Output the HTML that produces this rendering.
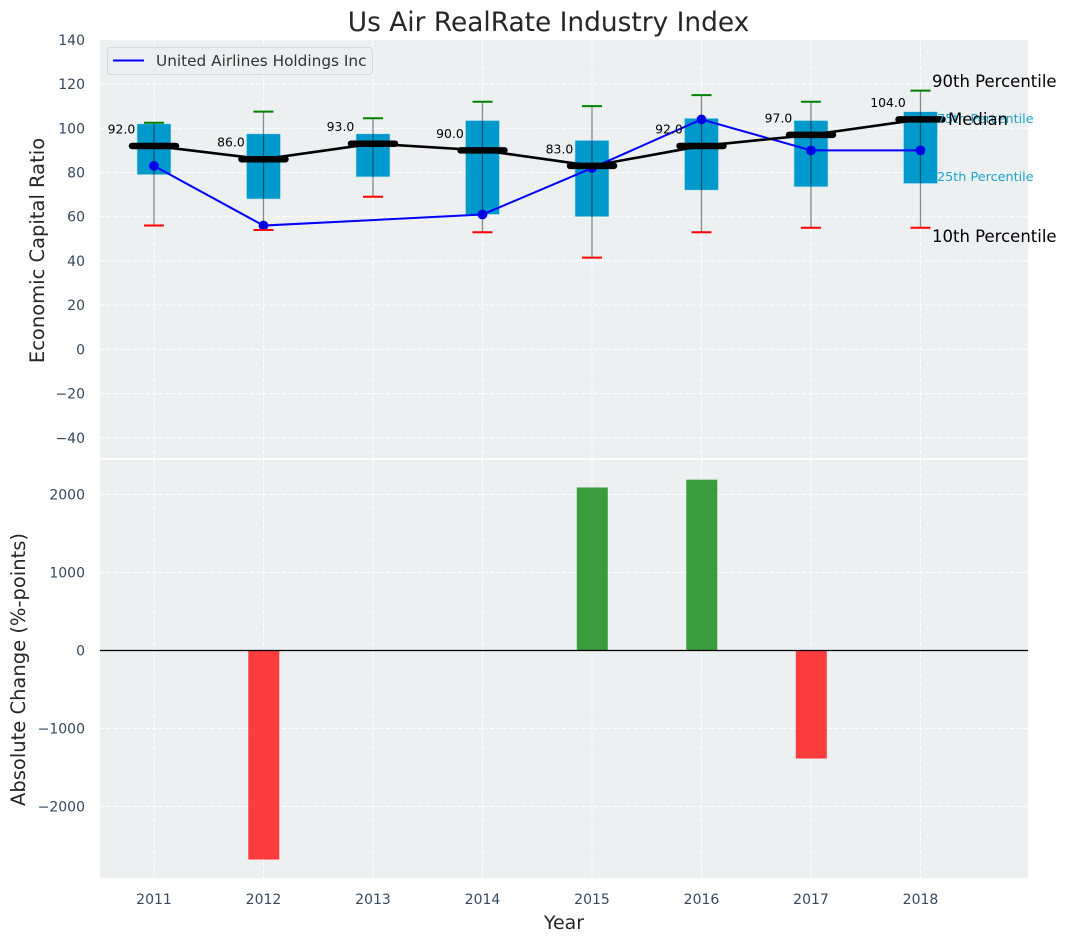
<!DOCTYPE html>
<html>
<head>
<meta charset="utf-8">
<style>
html,body{margin:0;padding:0;background:#fff;}
svg{display:block;font-family:"DejaVu Sans","Liberation Sans",sans-serif;}
</style>
</head>
<body>
<svg id="chart" width="1067" height="942" viewBox="0 0 1067 942" xmlns="http://www.w3.org/2000/svg">
  <rect x="0" y="0" width="1067" height="942" fill="#ffffff"/>
  <rect x="100" y="40" width="928" height="418" fill="#ecf0f1"/>
  <rect x="100" y="460" width="928" height="418" fill="#ecf0f1"/>
  <g id="grid"></g>
  <g id="bars"></g>
  <g id="boxes"></g>
  <g id="company"></g>
  <g id="whiskers"></g>
  <g id="medians"></g>
  <g id="ticks"></g>
  <text x="548.5" y="31" text-anchor="middle" font-size="26.4" fill="#262626">Us Air RealRate Industry Index</text>
  <text transform="translate(44,250.5) rotate(-90)" text-anchor="middle" font-size="19.5" fill="#262626">Economic Capital Ratio</text>
  <text transform="translate(25,669.5) rotate(-90)" text-anchor="middle" font-size="19.5" fill="#262626">Absolute Change (%-points)</text>
  <text x="564" y="929" text-anchor="middle" font-size="19" fill="#262626">Year</text>
  <text x="932" y="87" font-size="16.5" fill="#000000">90th Percentile</text>
  <text x="937" y="123" font-size="12.8" fill="#1fa2cf">75th Percentile</text>
  <text x="948" y="125" font-size="16.5" fill="#000000">Median</text>
  <text x="937" y="181" font-size="12.8" fill="#1fa2cf">25th Percentile</text>
  <text x="932" y="242" font-size="16.5" fill="#000000">10th Percentile</text>
  <g>
    <rect x="107.5" y="47.5" width="265" height="27" rx="3" fill="#eceef2" stroke="#d5d8dc" stroke-width="1"/>
    <line x1="113" y1="60.5" x2="144" y2="60.5" stroke="#0000ff" stroke-width="2"/>
    <text x="156" y="66" font-size="15.3" fill="#333333">United Airlines Holdings Inc</text>
  </g>
</svg>
<script>
const years = [2011, 2012, 2013, 2014, 2015, 2016, 2017, 2018];
const p10 = [56, 54, 69, 53, 41.5, 53, 55, 55];
const p25 = [79, 68, 78, 61, 60, 72, 73.5, 75];
const median = [92, 86, 93, 90, 83, 92, 97, 104];
const p75 = [102, 97.5, 97.5, 103.5, 94.5, 104.5, 103.5, 107.5];
const p90 = [102.5, 107.5, 104.5, 112, 110, 115, 112, 117];
const company = [83, 56, null, 61, 82, 104, 90, 90];
const change = [0, -2680, 0, 0, 2090, 2190, -1385, 0];
const topTicks = [-40, -20, 0, 20, 40, 60, 80, 100, 120, 140];
const bottomTicks = [-2000, -1000, 0, 1000, 2000];

const NS = 'http://www.w3.org/2000/svg';
function xS(v) { return 100 + (v - 2010.507) * 109.5; }
function yTop(v) { return 349.4 - v * 2.2115; }
function yBot(v) { return 650.5 - v * 0.078; }
function mk(tag, parent, attrs) {
  const el = document.createElementNS(NS, tag);
  for (const k in attrs) el.setAttribute(k, attrs[k]);
  parent.appendChild(el);
  return el;
}
function fmtTick(v) { return v < 0 ? '\u2212' + Math.abs(v) : String(v); }

const grid = document.getElementById('grid');
const ticks = document.getElementById('ticks');
const dash = { stroke: '#ffffff', 'stroke-width': 1, 'stroke-dasharray': '4.5,2' };

topTicks.forEach(function (t) {
  const y = yTop(t);
  if (y >= 40 && y <= 458) {
    const g = mk('line', grid, Object.assign({ x1: 100, x2: 1028, y1: y, y2: y }, dash));
    
    
  }
  const l = mk('text', ticks, { x: 85, y: y + 5, 'text-anchor': 'end', 'font-size': 14, fill: '#34495e' });
  l.textContent = fmtTick(t);
  
  
});

bottomTicks.forEach(function (t) {
  const y = yBot(t);
  const g = mk('line', grid, Object.assign({ x1: 100, x2: 1028, y1: y, y2: y }, dash));
  
  
  const l = mk('text', ticks, { x: 85, y: y + 5, 'text-anchor': 'end', 'font-size': 14, fill: '#34495e' });
  l.textContent = fmtTick(t);
  
  
});

years.forEach(function (yr) {
  const x = xS(yr);
  const g1 = mk('line', grid, Object.assign({ x1: x, x2: x, y1: 40, y2: 458 }, dash));
  
  
  const g2 = mk('line', grid, Object.assign({ x1: x, x2: x, y1: 460, y2: 878 }, dash));
  
  
  const l = mk('text', ticks, { x: x, y: 904, 'text-anchor': 'middle', 'font-size': 14, fill: '#34495e' });
  l.textContent = String(yr);
  
  
});

const barsG = document.getElementById('bars');
change.forEach(function (v, i) {
  if (!v) return;
  const y0 = yBot(0), y1 = yBot(v);
  const r = mk('rect', barsG, {
    x: xS(years[i]) - 15.2, y: Math.min(y0, y1), width: 31, height: Math.abs(y1 - y0),
    fill: v > 0 ? '#008000' : '#ff0000', 'fill-opacity': 0.75
  });
  
  
});
const zero = mk('line', barsG, { x1: 100, x2: 1028, y1: yBot(0), y2: yBot(0), stroke: '#000000', 'stroke-width': 1.2 });



const boxesG = document.getElementById('boxes');
years.forEach(function (yr, i) {
  const y1 = yTop(p75[i]), y2 = yTop(p25[i]);
  const r = mk('rect', boxesG, {
    x: xS(yr) - 17, y: y1, width: 34, height: y2 - y1,
    fill: '#0099cc', stroke: '#bfe3ef', 'stroke-width': 0.6
  });
  
  
});

const companyG = document.getElementById('company');
const cpts = [];
company.forEach(function (v, i) {
  if (v !== null) cpts.push([xS(years[i]), yTop(v)]);
});
const cline = mk('polyline', companyG, {
  points: cpts.map(function (p) { return p.join(','); }).join(' '),
  fill: 'none', stroke: '#0000ff', 'stroke-width': 2
});


cpts.forEach(function (p) {
  const c = mk('circle', companyG, { cx: p[0], cy: p[1], r: 4.9, fill: '#0000ff' });
  
  
});

const whiskG = document.getElementById('whiskers');
years.forEach(function (yr, i) {
  const x = xS(yr);
  const w = mk('line', whiskG, { x1: x, x2: x, y1: yTop(p90[i]), y2: yTop(p10[i]), stroke: '#000000', 'stroke-opacity': 0.45, 'stroke-width': 1.3 });
  
  
  const hi = mk('line', whiskG, { x1: x - 10, x2: x + 10, y1: yTop(p90[i]), y2: yTop(p90[i]), stroke: '#008000', 'stroke-width': 2 });
  
  
  const lo = mk('line', whiskG, { x1: x - 10, x2: x + 10, y1: yTop(p10[i]), y2: yTop(p10[i]), stroke: '#ff0000', 'stroke-width': 2 });
  
  
});

const medG = document.getElementById('medians');
const mline = mk('polyline', medG, {
  points: median.map(function (v, i) { return xS(years[i]) + ',' + yTop(v); }).join(' '),
  fill: 'none', stroke: '#000000', 'stroke-width': 2.6
});


median.forEach(function (v, i) {
  const x = xS(years[i]), y = yTop(v);
  const m = mk('line', medG, { x1: x - 22, x2: x + 22, y1: y, y2: y, stroke: '#000000', 'stroke-width': 6.5, 'stroke-linecap': 'round' });
  
  
  const t = mk('text', medG, { x: x - 32.5, y: y - 12.5, 'text-anchor': 'middle', 'font-size': 12.4, fill: '#000000' });
  t.textContent = v.toFixed(1);
  
  
});
</script>
</body>
</html>
